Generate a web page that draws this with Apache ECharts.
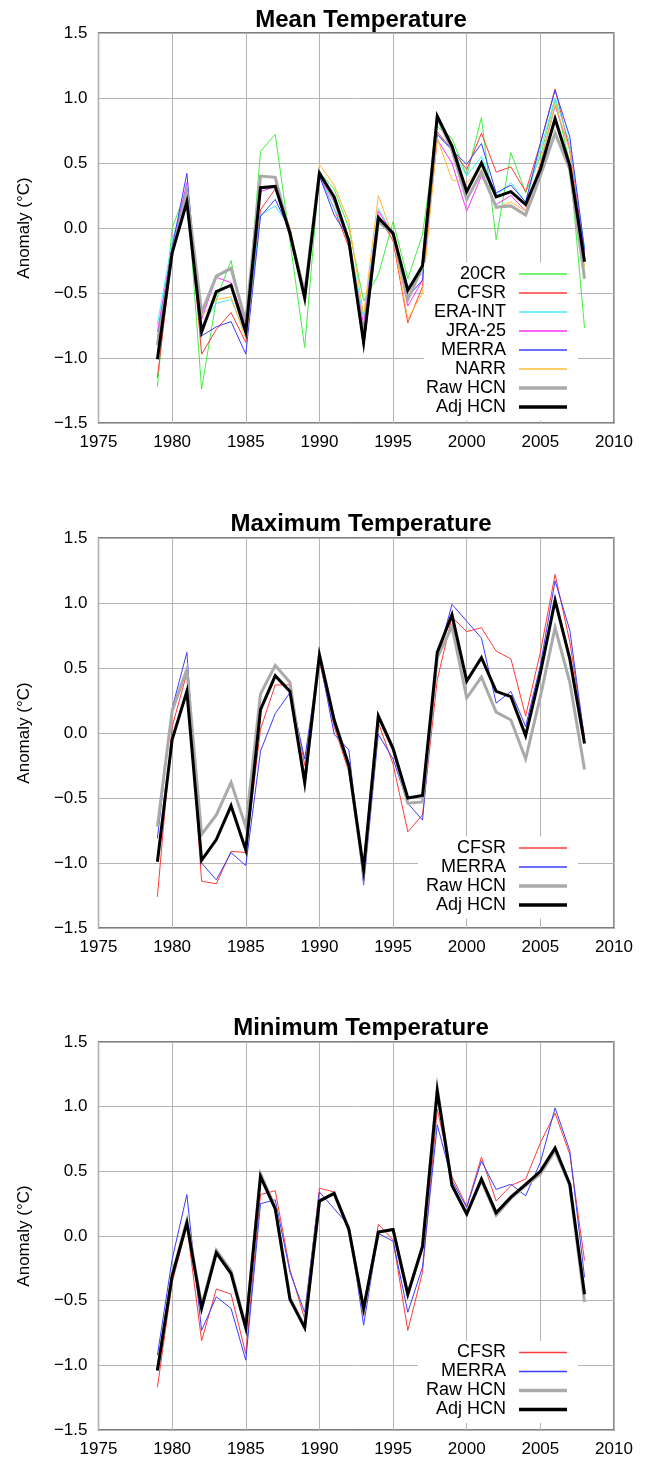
<!DOCTYPE html>
<html>
<head>
<meta charset="utf-8">
<script src="https://cdn.jsdelivr.net/npm/echarts@6/dist/echarts.min.js"></script>
<style>
html,body{margin:0;padding:0;background:#fff;}
#chart{width:648px;height:1458px;}
</style>
</head>
<body>
<div id="chart"></div>
<script>
// ---------- data ----------
const years = [1979,1980,1981,1982,1983,1984,1985,1986,1987,1988,1989,1990,1991,1992,1993,1994,1995,1996,1997,1998,1999,2000,2001,2002,2003,2004,2005,2006,2007,2008];
const xTicks = [1975,1980,1985,1990,1995,2000,2005,2010];
const yTicks = [-1.5,-1.0,-0.5,0.0,0.5,1.0,1.5];
const panelTitles = ['Mean Temperature','Maximum Temperature','Minimum Temperature'];

// Mean temperature
const mean20CR  = [-1.22,0.0,0.3,-1.24,-0.55,-0.25,-0.8,0.59,0.72,-0.1,-0.92,0.43,0.3,0.0,-0.56,-0.36,0.05,-0.39,-0.05,0.78,0.69,0.4,0.85,-0.09,0.58,0.27,0.55,0.99,0.5,-0.77];
const meanCFSR  = [-1.15,-0.2,0.3,-0.97,-0.78,-0.65,-0.88,0.14,0.3,0.0,-0.55,0.4,0.15,-0.15,-0.8,0.1,-0.1,-0.73,-0.45,0.74,0.6,0.45,0.73,0.43,0.47,0.28,0.65,1.07,0.6,-0.2];
const meanERA   = [-0.74,-0.1,0.3,-0.75,-0.58,-0.55,-0.82,0.1,0.17,0.0,-0.5,0.4,0.15,-0.08,-0.7,0.15,-0.05,-0.45,-0.35,0.72,0.6,0.4,0.55,0.25,0.35,0.2,0.6,1.0,0.65,-0.15];
const meanJRA   = [-0.8,-0.15,0.35,-0.7,-0.38,-0.42,-0.75,0.28,0.32,-0.05,-0.5,0.4,0.2,-0.1,-0.75,0.13,-0.05,-0.6,-0.4,0.68,0.5,0.13,0.4,0.18,0.25,0.13,0.5,0.94,0.6,-0.22];
const meanMERRA = [-0.85,-0.15,0.42,-0.83,-0.76,-0.72,-0.97,0.09,0.22,-0.02,-0.55,0.4,0.1,-0.08,-0.92,0.05,-0.05,-0.53,-0.4,0.72,0.6,0.49,0.65,0.27,0.33,0.2,0.65,1.06,0.7,-0.17];
const meanNARR  = [-0.95,-0.2,0.3,-0.68,-0.55,-0.53,-0.85,0.3,0.33,0.0,-0.5,0.49,0.33,0.05,-0.67,0.25,-0.07,-0.7,-0.5,0.69,0.37,0.35,0.45,0.15,0.2,0.13,0.5,0.95,0.6,-0.3];
const meanRaw   = [-0.9,-0.2,0.28,-0.65,-0.37,-0.31,-0.72,0.4,0.39,-0.05,-0.5,0.43,0.22,-0.1,-0.85,0.05,-0.05,-0.55,-0.3,0.85,0.6,0.22,0.43,0.16,0.17,0.1,0.4,0.73,0.45,-0.39];
const meanAdj   = [-1.01,-0.19,0.2,-0.8,-0.49,-0.44,-0.8,0.31,0.32,-0.04,-0.54,0.42,0.24,-0.1,-0.88,0.08,-0.04,-0.48,-0.29,0.86,0.63,0.28,0.5,0.24,0.28,0.18,0.45,0.84,0.48,-0.26];

// Maximum temperature
const maxCFSR  = [-1.26,0.05,0.46,-1.14,-1.16,-0.91,-0.92,0.03,0.37,0.37,-0.25,0.55,0.05,-0.3,-1.1,0.08,-0.24,-0.76,-0.63,0.41,0.89,0.78,0.81,0.63,0.57,0.13,0.62,1.22,0.7,-0.03];
const maxMERRA = [-0.81,0.19,0.62,-1.0,-1.13,-0.92,-1.02,-0.14,0.15,0.31,-0.2,0.58,-0.01,-0.13,-1.17,-0.01,-0.2,-0.54,-0.67,0.57,0.99,0.86,0.73,0.23,0.32,0.05,0.52,1.17,0.79,-0.05];
const maxRaw   = [-0.72,0.17,0.49,-0.78,-0.63,-0.38,-0.72,0.3,0.52,0.39,-0.38,0.6,0.1,-0.25,-1.08,0.13,-0.12,-0.54,-0.53,0.58,0.82,0.27,0.43,0.16,0.1,-0.2,0.28,0.81,0.39,-0.28];
const maxAdj   = [-0.99,-0.05,0.32,-0.98,-0.82,-0.56,-0.9,0.18,0.44,0.32,-0.38,0.6,0.1,-0.25,-1.05,0.13,-0.12,-0.5,-0.48,0.62,0.91,0.4,0.58,0.32,0.28,-0.02,0.46,1.02,0.57,-0.08];

// Minimum temperature
const minCFSR  = [-1.17,-0.36,0.08,-0.81,-0.41,-0.45,-0.91,0.32,0.35,-0.26,-0.64,0.37,0.34,0.05,-0.62,0.09,-0.03,-0.73,-0.28,0.98,0.46,0.23,0.61,0.27,0.39,0.44,0.72,0.95,0.63,-0.19];
const minMERRA = [-0.92,-0.18,0.32,-0.73,-0.47,-0.56,-0.96,0.25,0.28,-0.28,-0.59,0.34,0.21,0.08,-0.69,0.02,-0.04,-0.59,-0.24,0.86,0.43,0.22,0.58,0.36,0.4,0.31,0.57,0.99,0.66,-0.32];
const minRaw   = [-1.04,-0.3,0.12,-0.54,-0.11,-0.27,-0.7,0.48,0.22,-0.48,-0.7,0.27,0.33,0.05,-0.57,0.03,0.05,-0.45,-0.08,1.14,0.39,0.17,0.43,0.16,0.29,0.39,0.48,0.66,0.39,-0.51];
const minAdj   = [-1.04,-0.31,0.1,-0.56,-0.13,-0.29,-0.71,0.46,0.21,-0.49,-0.71,0.27,0.33,0.05,-0.56,0.03,0.05,-0.45,-0.08,1.12,0.39,0.17,0.44,0.18,0.3,0.4,0.5,0.68,0.4,-0.45];

// ---------- styles ----------
const FONT = "'Liberation Sans', Arial, Helvetica, sans-serif";
const styles = {
  '20CR':    {color:'#44ee44', width:1, thick:false},
  'CFSR':    {color:'#ff3b3b', width:1, thick:false},
  'ERA-INT': {color:'#44eeff', width:1, thick:false},
  'JRA-25':  {color:'#ff33ff', width:1, thick:false},
  'MERRA':   {color:'#3c3cff', width:1, thick:false},
  'NARR':    {color:'#ffbb33', width:1, thick:false},
  'Raw HCN': {color:'#aaaaaa', width:3, thick:true},
  'Adj HCN': {color:'#000000', width:3, thick:true}
};
const thinIcon  = 'path://M0,0L48,0L48,1.3L0,1.3Z';
const thickIcon = 'path://M0,0L48,0L48,3.4L0,3.4Z';

const panels = [
  {title:panelTitles[0], top:33, titleTop:3, legendTop:262.5, legendPad:[2,11,4,2],
   series:[['20CR',mean20CR],['CFSR',meanCFSR],['ERA-INT',meanERA],['JRA-25',meanJRA],['MERRA',meanMERRA],['NARR',meanNARR],['Raw HCN',meanRaw],['Adj HCN',meanAdj]]},
  {title:panelTitles[1], top:538, titleTop:507, legendTop:836.5, legendPad:[2,11,4,8],
   series:[['CFSR',maxCFSR],['MERRA',maxMERRA],['Raw HCN',maxRaw],['Adj HCN',maxAdj]]},
  {title:panelTitles[2], top:1042, titleTop:1011, legendTop:1341, legendPad:[2,11,4,8],
   series:[['CFSR',minCFSR],['MERRA',minMERRA],['Raw HCN',minRaw],['Adj HCN',minAdj]]}
];

const option = {
  animation:false,
  backgroundColor:'#fff',
  textStyle:{fontFamily:FONT},
  title:[], grid:[], xAxis:[], yAxis:[], legend:[], series:[]
};

panels.forEach((p, i) => {
  option.title.push({
    text:p.title, left:356, textAlign:'center', top:p.titleTop,
    textStyle:{fontFamily:FONT, fontSize:24, fontWeight:'bold', color:'#000'}
  });
  option.grid.push({
    left:98.5, right:34, top:p.top, height:390,
    show:true, borderColor:'#555', borderWidth:1.3, backgroundColor:'transparent'
  });
  option.xAxis.push({
    type:'value', gridIndex:i, min:xTicks[0], max:xTicks[xTicks.length-1], interval:5,
    axisLine:{show:false}, axisTick:{show:false},
    axisLabel:{fontFamily:FONT, fontSize:17, color:'#000', margin:11,
      formatter:v => String(v)},
    splitLine:{show:true, lineStyle:{color:'#b4b4b4', width:1}}
  });
  option.yAxis.push({
    type:'value', gridIndex:i, min:yTicks[0], max:yTicks[yTicks.length-1], interval:0.5,
    name:'Anomaly (°C)', nameLocation:'middle', nameGap:66,
    nameTextStyle:{fontFamily:FONT, fontSize:17, color:'#000'},
    axisLine:{show:false}, axisTick:{show:false},
    axisLabel:{fontFamily:FONT, fontSize:17, color:'#000', margin:11,
      formatter:v => v.toFixed(1).replace('-', '\u2212')},
    splitLine:{show:true, lineStyle:{color:'#b4b4b4', width:1}}
  });
  option.legend.push({
    orient:'vertical', right:70, top:p.legendTop, align:'right',
    padding:p.legendPad, backgroundColor:'#fff', itemGap:0,
    itemWidth:48, itemHeight:4, selectedMode:false,
    textStyle:{fontFamily:FONT, fontSize:18, color:'#000', lineHeight:19, padding:[0,8,0,0]},
    data:p.series.map(s => ({name:s[0], icon: styles[s[0]].thick ? thickIcon : thinIcon}))
  });
  p.series.forEach(s => {
    const st = styles[s[0]];
    option.series.push({
      name:s[0], type:'line', xAxisIndex:i, yAxisIndex:i,
      symbol:'none', silent:true,
      z: st.thick ? (s[0]==='Adj HCN' ? 4 : 3) : 2,
      color:st.color,
      lineStyle:{color:st.color, width:st.width, join:'miter'},
      data:years.map((y, k) => [y, s[1][k]])
    });
  });
});

const chart = echarts.init(document.getElementById('chart'), null, {renderer:'canvas'});
chart.setOption(option);
</script>
</body>
</html>
